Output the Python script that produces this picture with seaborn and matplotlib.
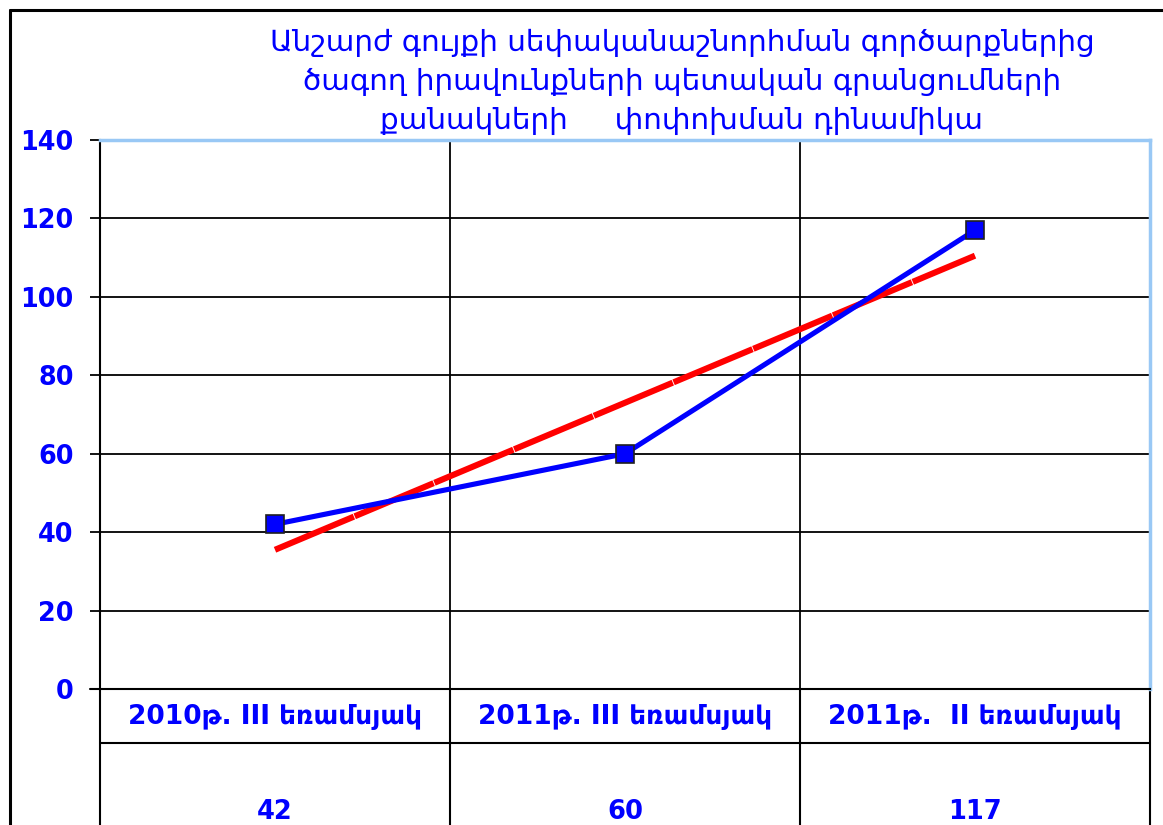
import numpy as np
import pandas as pd
import seaborn as sns
import matplotlib
matplotlib.use("Agg")
import matplotlib.pyplot as plt
from matplotlib.lines import Line2D

# Data
periods = ["2010թ. III եռամսյակ", "2011թ. III եռամսյակ", "2011թ.  II եռամսյակ"]
counts = [42, 60, 117]
y_ticks = [0, 20, 40, 60, 80, 100, 120, 140]
title = ("Անշարժ գույքի սեփականաշնորհման գործարքներից\n"
         "ծագող իրավունքների պետական գրանցումների\n"
         "քանակների     փոփոխման դինամիկա")

BLUE = "#0000FF"
RED = "#FF0000"
FRAME_BLUE = "#99C8F5"

sns.set_theme(style="white")
plt.rcParams["font.family"] = ["DejaVu Sans"]

W, H = 1163, 825
fig = plt.figure(figsize=(W / 100, H / 100), dpi=100)

def fx(px):
    return px / W

def fy(py):
    return 1 - py / H

left, right, top, bottom = 100, 1150, 140, 689
ax = fig.add_axes([fx(left), fy(bottom), fx(right - left), fy(top) - fy(bottom)])

df = pd.DataFrame({"x": np.arange(1, len(counts) + 1), "count": counts})

# Linear trend through the observations
coef = np.polyfit(df["x"], df["count"], 1)
df["trend"] = np.polyval(coef, df["x"])

sns.lineplot(data=df, x="x", y="count", ax=ax, color=BLUE, linewidth=3.7,
             marker="s", markersize=12.5, markerfacecolor=BLUE,
             markeredgecolor="#202020", markeredgewidth=1.2, zorder=4)
trend_line = sns.lineplot(data=df, x="x", y="trend", ax=ax, color=RED, linewidth=4.4, zorder=3)
trend_line.lines[-1].set_dashes([14, 0.15])

ax.set_xlim(0.5, len(counts) + 0.5)
ax.set_ylim(0, 140)
ax.set_yticks(y_ticks)
ax.set_yticklabels([str(t) for t in y_ticks], color=BLUE, fontsize=18.4, fontweight="bold")
ax.set_xticks([])
ax.set_xlabel("")
ax.set_ylabel("")
ax.tick_params(axis="y", which="major", left=True, length=7, width=1.3, color="black", pad=12)

# Horizontal grid and category separators
for t in y_ticks[1:-1]:
    ax.axhline(t, color="black", linewidth=1.3, zorder=1)
for b in np.arange(1.5, len(counts), 1.0):
    ax.axvline(b, color="black", linewidth=1.3, zorder=1)

for side in ["top", "right"]:
    ax.spines[side].set_color(FRAME_BLUE)
    ax.spines[side].set_linewidth(2.5)
ax.spines["left"].set_color("black")
ax.spines["left"].set_linewidth(1.5)
ax.spines["bottom"].set_color("black")
ax.spines["bottom"].set_linewidth(1.5)

# Data table below the plot
trans = ax.get_xaxis_transform()
ax_h = bottom - top
def ay(py):
    return -(py - bottom) / ax_h

row1 = 743
ax.add_line(Line2D([0.5, len(counts) + 0.5], [ay(row1), ay(row1)], transform=trans,
                   color="black", linewidth=1.5, clip_on=False))
ax.add_line(Line2D([0.5 - 10 / 350, 0.5], [0, 0], transform=trans,
                   color="black", linewidth=1.5, clip_on=False))
for b in np.arange(0.5, len(counts) + 1, 1.0):
    ax.add_line(Line2D([b, b], [0, ay(H + 5)], transform=trans,
                       color="black", linewidth=1.5, clip_on=False))
for i, (p, c) in enumerate(zip(periods, counts)):
    ax.text(i + 1, ay(716), p, transform=trans, ha="center", va="center",
            color=BLUE, fontsize=19, fontweight="bold", clip_on=False)
    ax.text(i + 1, ay(812), str(c), transform=trans, ha="center", va="center",
            color=BLUE, fontsize=18.5, fontweight="bold", clip_on=False)

# Title
fig.text(fx(682), fy(82), title, ha="center", va="center", color=BLUE,
         fontsize=21.2, linespacing=1.48)

# Outer chart frame
fig.add_artist(Line2D([fx(10), fx(W + 5)], [fy(10), fy(10)], color="black", linewidth=2.2))
fig.add_artist(Line2D([fx(10), fx(10)], [fy(10), fy(H + 5)], color="black", linewidth=2.2))

fig.savefig("out.png", dpi=100, facecolor="white")
